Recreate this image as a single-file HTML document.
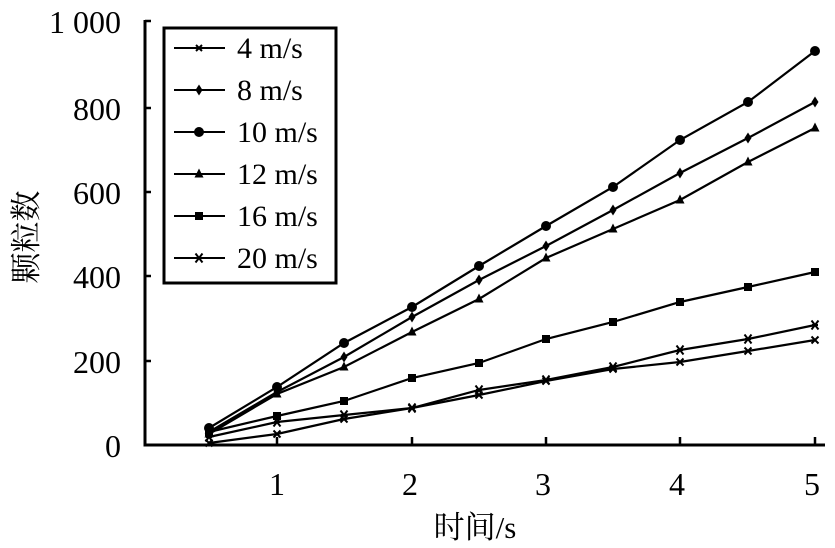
<!DOCTYPE html>
<html><head><meta charset="utf-8"><style>
html,body{margin:0;padding:0;background:#fff;}
svg{display:block;font-family:"Liberation Serif","Noto Serif CJK SC",serif;}
</style></head><body>
<svg width="835" height="548" viewBox="0 0 835 548" xmlns="http://www.w3.org/2000/svg">
<defs>
<g id="mx"><path d="M-3.5,-3.5L3.5,3.5M3.5,-3.5L-3.5,3.5" stroke="#000" stroke-width="2"/></g>
<g id="md"><path d="M0,-5.5L3.5,0L0,5.5L-3.5,0Z" fill="#000"/></g>
<g id="mc"><circle r="5" fill="#000"/></g>
<g id="mt"><path d="M0,-5.5L4.5,3.5L-4.5,3.5Z" fill="#000"/></g>
<g id="ms"><rect x="-4" y="-4" width="8" height="8" fill="#000"/></g>
<g id="mz"><path d="M-3.5,-4.5L3.5,4.5M3.5,-4.5L-3.5,4.5M-3,0L3,0" stroke="#000" stroke-width="2"/></g>
</defs>
<g stroke="#000" stroke-width="3" fill="none">
<path d="M145,20V445H825"/>
</g>
<g stroke="#000" stroke-width="2.5">
<path d="M145,21h6M145,108h6M145,192h6M145,276h6M145,361h6"/>
<path d="M277,445v-8M412,445v-8M546,445v-8M680,445v-8M815,445v-8"/>
</g>
<g font-size="32" text-anchor="end" fill="#000">
<text x="121" y="33">1 000</text>
<text x="121" y="120">800</text>
<text x="121" y="204">600</text>
<text x="121" y="288">400</text>
<text x="121" y="373">200</text>
<text x="121" y="457">0</text>
</g>
<g font-size="32" text-anchor="middle" fill="#000">
<text x="277" y="495">1</text>
<text x="410" y="495">2</text>
<text x="543" y="495">3</text>
<text x="677" y="495">4</text>
<text x="812" y="495">5</text>
</g>
<text x="475" y="538" font-size="31" text-anchor="middle">时间/s</text>
<text transform="translate(37,237) rotate(-90)" font-size="31" text-anchor="middle">颗粒数</text>
<g stroke="#000" stroke-width="2.2" fill="none">
<polyline points="209,428 277,387 344,343 412,307 479,266 546,226 613,187 680,140 748,102 815,51"/>
<polyline points="209,432 277,392 344,357 412,317 479,280 546,246 613,210 680,173 748,138 815,102"/>
<polyline points="209,434 277,394 344,367 412,332 479,299 546,258 613,229 680,200 748,162 815,128"/>
<polyline points="209,432 277,416 344,401 412,378 479,363 546,339 613,322 680,302 748,287 815,272"/>
<polyline points="209,443 277,434 344,419 412,408 479,395 546,381 613,369 680,362 748,351 815,340"/>
<polyline points="209,437 277,422 344,415 412,408 479,390 546,380 613,367 680,350 748,339 815,325"/>
</g>
<g>
<use href="#mc" x="209" y="428"/><use href="#mc" x="277" y="387"/><use href="#mc" x="344" y="343"/><use href="#mc" x="412" y="307"/><use href="#mc" x="479" y="266"/><use href="#mc" x="546" y="226"/><use href="#mc" x="613" y="187"/><use href="#mc" x="680" y="140"/><use href="#mc" x="748" y="102"/><use href="#mc" x="815" y="51"/>
<use href="#md" x="209" y="432"/><use href="#md" x="277" y="392"/><use href="#md" x="344" y="357"/><use href="#md" x="412" y="317"/><use href="#md" x="479" y="280"/><use href="#md" x="546" y="246"/><use href="#md" x="613" y="210"/><use href="#md" x="680" y="173"/><use href="#md" x="748" y="138"/><use href="#md" x="815" y="102"/>
<use href="#mt" x="209" y="434"/><use href="#mt" x="277" y="394"/><use href="#mt" x="344" y="367"/><use href="#mt" x="412" y="332"/><use href="#mt" x="479" y="299"/><use href="#mt" x="546" y="258"/><use href="#mt" x="613" y="229"/><use href="#mt" x="680" y="200"/><use href="#mt" x="748" y="162"/><use href="#mt" x="815" y="128"/>
<use href="#ms" x="209" y="432"/><use href="#ms" x="277" y="416"/><use href="#ms" x="344" y="401"/><use href="#ms" x="412" y="378"/><use href="#ms" x="479" y="363"/><use href="#ms" x="546" y="339"/><use href="#ms" x="613" y="322"/><use href="#ms" x="680" y="302"/><use href="#ms" x="748" y="287"/><use href="#ms" x="815" y="272"/>
<use href="#mx" x="209" y="443"/><use href="#mx" x="277" y="434"/><use href="#mx" x="344" y="419"/><use href="#mx" x="412" y="408"/><use href="#mx" x="479" y="395"/><use href="#mx" x="546" y="381"/><use href="#mx" x="613" y="369"/><use href="#mx" x="680" y="362"/><use href="#mx" x="748" y="351"/><use href="#mx" x="815" y="340"/>
<use href="#mz" x="209" y="437"/><use href="#mz" x="277" y="422"/><use href="#mz" x="344" y="415"/><use href="#mz" x="412" y="408"/><use href="#mz" x="479" y="390"/><use href="#mz" x="546" y="380"/><use href="#mz" x="613" y="367"/><use href="#mz" x="680" y="350"/><use href="#mz" x="748" y="339"/><use href="#mz" x="815" y="325"/>
</g>
<rect x="164" y="28" width="172" height="255" fill="#fff" stroke="#000" stroke-width="3"/>
<g stroke="#000" stroke-width="2">
<path d="M174,48H225M174,90H225M174,132H225M174,174H225M174,216H225M174,258H225"/>
</g>
<path d="M196,45L202,51M202,45L196,51" stroke="#000" stroke-width="2"/>
<use href="#md" x="199" y="90"/><use href="#mc" x="199" y="132"/><use href="#mt" x="199" y="174"/><use href="#ms" x="199" y="216"/><use href="#mz" x="199" y="258"/>
<g font-size="30" fill="#000">
<text x="237" y="58">4 m/s</text>
<text x="237" y="100">8 m/s</text>
<text x="237" y="142">10 m/s</text>
<text x="237" y="184">12 m/s</text>
<text x="237" y="226">16 m/s</text>
<text x="237" y="268">20 m/s</text>
</g>
</svg>
</body></html>
